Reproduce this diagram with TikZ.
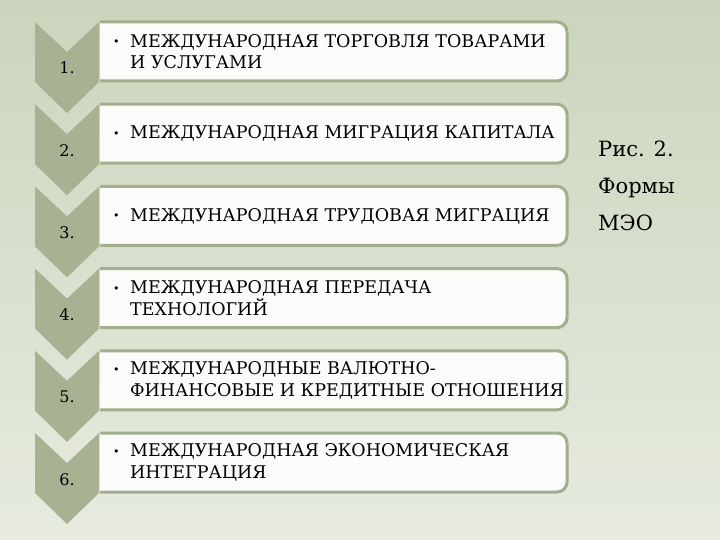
\documentclass[tikz,border=0pt]{standalone}
\usepackage{fontspec}
\setmainfont{DejaVu Serif}
\newfontfamily\serf{DejaVu Serif}
\definecolor{bgtop}{HTML}{CAD5BC}
\definecolor{bgbot}{HTML}{E7EBE0}
\definecolor{chev}{HTML}{A6B292}
\definecolor{boxline}{HTML}{A2AE8D}
\definecolor{boxfill}{HTML}{FBFCF9}
\tikzset{
  chevshape/.style={fill=chev, draw=none},
  boxbody/.style={fill=boxfill, draw=none},
  boxedge/.style={draw=boxline, line width=3pt},
  numtext/.style={font=\serf\fontsize{16}{16}\selectfont, inner sep=0pt, anchor=base},
  itemtext/.style={font=\serf\fontsize{17.5}{21.5}\selectfont, inner sep=0pt, anchor=west, align=left},
  captext/.style={font=\serf\fontsize{21}{21}\selectfont, inner sep=0pt, anchor=base west}
}
\newcommand{\bul}{\makebox[17pt][l]{\raisebox{1.5pt}{\fontsize{11}{11}\selectfont •}}}
\newcommand{\ind}{\hspace*{17pt}}
\begin{document}
\begin{tikzpicture}[x=1pt,y=-1pt]
\shade[top color=bgtop, bottom color=bgbot] (0,0) rectangle (720,540);
\useasboundingbox (0,0) rectangle (720,540);
\foreach \i/\txt in {
  1/{\bul МЕЖДУНАРОДНАЯ ТОРГОВЛЯ ТОВАРАМИ\\\ind И УСЛУГАМИ},
  2/{\bul МЕЖДУНАРОДНАЯ МИГРАЦИЯ КАПИТАЛА},
  3/{\bul МЕЖДУНАРОДНАЯ ТРУДОВАЯ МИГРАЦИЯ},
  4/{\bul МЕЖДУНАРОДНАЯ ПЕРЕДАЧА\\\ind ТЕХНОЛОГИЙ},
  5/{\bul МЕЖДУНАРОДНЫЕ ВАЛЮТНО-\\\ind ФИНАНСОВЫЕ И КРЕДИТНЫЕ ОТНОШЕНИЯ},
  6/{\bul МЕЖДУНАРОДНАЯ ЭКОНОМИЧЕСКАЯ\\\ind ИНТЕГРАЦИЯ}} {
  \pgfmathsetmacro\t{22+82.2*(\i-1)}
  \fill[chevshape] (35,\t) -- (67,\t+30) -- (99,\t) -- (99,\t+60) -- (67,\t+91) -- (35,\t+60) -- cycle;
  \node[numtext] (n\i) at (67,\t+52) {\i.};
  \fill[boxbody] (100,\t) -- (557,\t) arc[start angle=-90,end angle=0,radius=10] -- (567,\t+49) arc[start angle=0,end angle=90,radius=10] -- (100,\t+59) -- cycle;
  \draw[boxedge] (100,\t) -- (557,\t) arc[start angle=-90,end angle=0,radius=10] -- (567,\t+49) arc[start angle=0,end angle=90,radius=10] -- (100,\t+59);
  \node[itemtext] (b\i) at (113,\t+29.5) {\txt};
}
\node[captext] (cap1) at (598,157) {Рис. 2.};
\node[captext] (cap2) at (598,194) {Формы};
\node[captext] (cap3) at (598,230) {МЭО};
\end{tikzpicture}
\end{document}
